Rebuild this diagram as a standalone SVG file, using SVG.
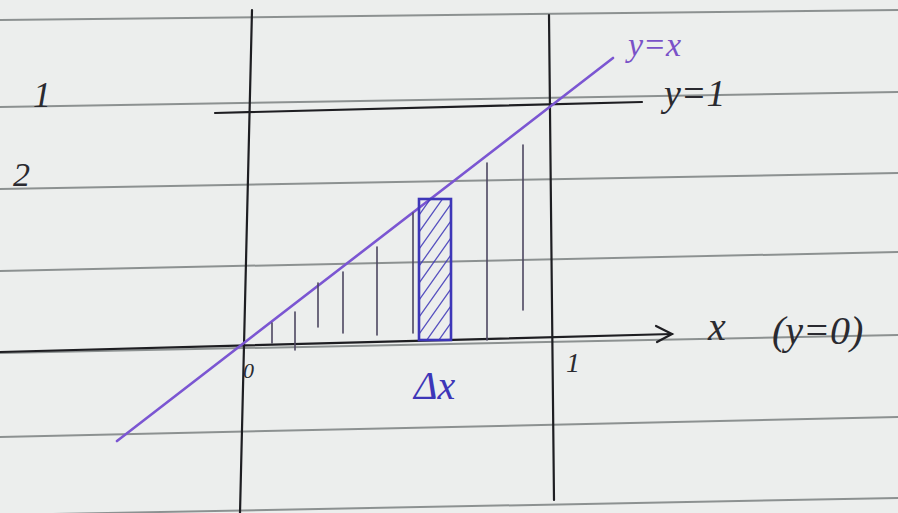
<svg xmlns="http://www.w3.org/2000/svg" width="898" height="513" viewBox="0 0 898 513">
  <style>
    .rule { stroke: #8c9191; stroke-width: 2; fill: none; }
    .ink { stroke: #1e1e22; stroke-width: 2.2; fill: none; stroke-linecap: round; }
    .hatch { stroke: #4d4660; stroke-width: 1.6; fill: none; stroke-linecap: round; }
    .blue { stroke: #3d36b8; fill: none; stroke-linecap: round; }
    .hand { font-family: "Liberation Serif", "DejaVu Serif", serif; font-style: italic; }
    .txtk { fill: #2a2a30; }
    .txtp { fill: #7a52c8; }
    .txtb { fill: #3d36b8; }
  </style>
  <defs>
    <clipPath id="rectClip">
      <rect x="419" y="199" width="32" height="141"/>
    </clipPath>
  </defs>

  <rect x="0" y="0" width="898" height="513" fill="#eceeed"/>

  <g id="paper-rules">
    <line class="rule" x1="0" y1="20" x2="898" y2="10"/>
    <line class="rule" x1="0" y1="107" x2="898" y2="92"/>
    <line class="rule" x1="0" y1="189" x2="898" y2="173"/>
    <line class="rule" x1="0" y1="271" x2="898" y2="252"/>
    <line class="rule" x1="0" y1="353" x2="898" y2="335"/>
    <line class="rule" x1="0" y1="437" x2="898" y2="417"/>
    <line class="rule" x1="0" y1="515" x2="898" y2="498"/>
  </g>

  <g id="connectors">
    <line id="y-axis" class="ink" x1="252" y1="10" x2="240" y2="513"/>
    <line id="x-eq-1" class="ink" x1="549" y1="15" x2="554" y2="500" stroke-width="1.8"/>
    <path id="x-axis" class="ink" d="M0,352 L672,334"/>
    <path id="x-arrow" class="ink" d="M656,326 L672,334 L657,342" stroke-width="2.4"/>
    <line id="y-eq-1-line" class="ink" x1="215" y1="113" x2="642" y2="102"/>
    <line id="y-eq-x-line" x1="117" y1="441" x2="613" y2="58" stroke="#7b56d2" stroke-width="2.6" stroke-linecap="round"/>
  </g>

  <g id="strips">
    <line class="hatch" x1="272" y1="323" x2="272" y2="343"/>
    <line class="hatch" x1="295" y1="312" x2="295" y2="350"/>
    <line class="hatch" x1="318" y1="283" x2="318" y2="327"/>
    <line class="hatch" x1="343" y1="272" x2="343" y2="333"/>
    <line class="hatch" x1="377" y1="247" x2="377" y2="335"/>
    <line class="hatch" x1="413" y1="213" x2="413" y2="333"/>
    <line class="hatch" x1="487" y1="163" x2="487" y2="340"/>
    <line class="hatch" x1="523" y1="145" x2="523" y2="310"/>
  </g>

  <g id="delta-rect">
    <g clip-path="url(#rectClip)">
      <g class="blue" stroke-width="1.3" opacity="0.85">
        <line x1="419" y1="215" x2="451" y2="170"/>
        <line x1="419" y1="232" x2="451" y2="187"/>
        <line x1="419" y1="249" x2="451" y2="204"/>
        <line x1="419" y1="266" x2="451" y2="221"/>
        <line x1="419" y1="283" x2="451" y2="238"/>
        <line x1="419" y1="300" x2="451" y2="255"/>
        <line x1="419" y1="317" x2="451" y2="272"/>
        <line x1="419" y1="334" x2="451" y2="289"/>
        <line x1="419" y1="351" x2="451" y2="306"/>
        <line x1="419" y1="368" x2="451" y2="323"/>
        <line x1="419" y1="385" x2="451" y2="340"/>
      </g>
    </g>
    <rect class="blue" x="419" y="199" width="32" height="141" stroke-width="2.6"/>
  </g>

  <g id="labels">
    <text id="lbl-1-left" class="hand txtk" x="33" y="107" font-size="36">1</text>
    <text id="lbl-2-left" class="hand txtk" x="13" y="186" font-size="34">2</text>
    <text id="lbl-yx" class="hand txtp" x="628" y="56" font-size="34">y=x</text>
    <text id="lbl-y1" class="hand txtk" x="664" y="106" font-size="38">y=1</text>
    <text id="lbl-x" class="hand txtk" x="708" y="340" font-size="40">x</text>
    <text id="lbl-y0" class="hand txtk" x="772" y="344" font-size="40">(y=0)</text>
    <text id="lbl-0" class="hand txtk" x="243" y="378" font-size="22">0</text>
    <text id="lbl-1-axis" class="hand txtk" x="566" y="372" font-size="28">1</text>
    <text id="lbl-dx" class="hand txtb" x="414" y="399" font-size="40">Δx</text>
  </g>
</svg>
